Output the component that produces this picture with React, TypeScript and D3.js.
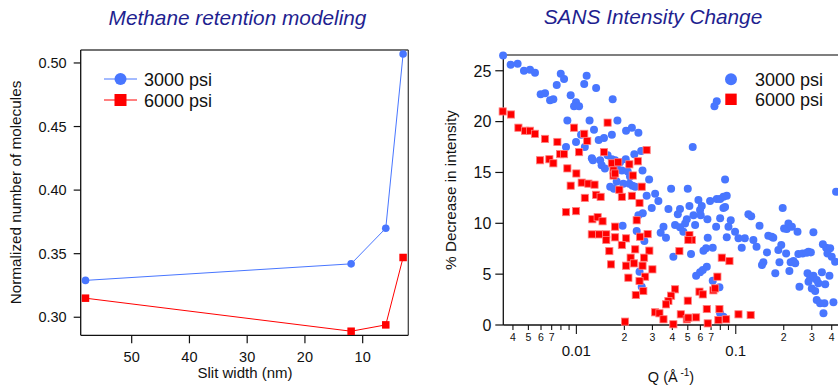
import React from 'react';
import * as d3 from 'd3';

const FONT = '"Liberation Sans", Arial, Helvetica, sans-serif';
const BLUE = '#4876ff';
const RED = '#ff0000';
const TITLE_COLOR = '#1f1f90';

// Methane retention vs slit width
const slitWidth = [58, 12, 6, 3];
const retention3000 = [0.329, 0.342, 0.37, 0.507];
const retention6000 = [0.315, 0.289, 0.294, 0.347];
const slitTicks = [10, 20, 30, 40, 50];
const retentionTicks = [0.3, 0.35, 0.4, 0.45, 0.5];

// SANS intensity change: [Q (1/Å), % decrease]
const pctTicks = [0, 5, 10, 15, 20, 25];
const seriesNames = ['3000 psi', '6000 psi'];

const sans3000: [number, number][] = [
  [0.00347, 26.5], [0.00387, 25.6], [0.00428, 25.7], [0.00469, 25.0], [0.00512, 25.1], [0.0055, 24.8],
  [0.00798, 24.7], [0.00837, 24.2], [0.00753, 23.6], [0.00597, 22.7], [0.00636, 22.8], [0.00684, 22.1],
  [0.00717, 22.2], [0.00921, 22.6], [0.00995, 21.9], [0.00967, 21.5], [0.0104, 21.5], [0.0112, 23.7],
  [0.0116, 24.5], [0.0133, 23.3], [0.0169, 22.2], [0.00878, 20.1], [0.0121, 20.1], [0.0181, 20.1],
  [0.0129, 19.2], [0.00995, 18.0], [0.0107, 18.7], [0.00861, 17.5], [0.0113, 17.5], [0.0138, 18.2],
  [0.0149, 18.4], [0.0167, 18.7], [0.0205, 19.1], [0.0223, 19.4], [0.0245, 18.9], [0.0125, 16.4],
  [0.0127, 16.2], [0.0141, 16.2], [0.0144, 15.7], [0.0151, 15.4], [0.0157, 16.7], [0.0167, 16.3],
  [0.0175, 16.2], [0.0179, 15.6], [0.0188, 16.0], [0.0193, 15.2], [0.0204, 16.3], [0.021, 15.1],
  [0.0217, 14.6], [0.0231, 16.8], [0.0255, 17.1], [0.026, 15.2], [0.0286, 14.3], [0.0179, 14.1],
  [0.0197, 13.9], [0.0215, 13.9], [0.0225, 13.7], [0.0234, 13.6], [0.0312, 12.9], [0.0327, 12.2],
  [0.0297, 11.5], [0.0276, 12.7], [0.0245, 10.8], [0.0261, 11.0], [0.0378, 11.4], [0.0393, 13.4],
  [0.05, 13.4], [0.0512, 11.7], [0.0447, 11.4], [0.0433, 10.9], [0.0352, 9.67], [0.0338, 9.08],
  [0.0365, 8.58], [0.0416, 9.83], [0.0447, 9.6], [0.0469, 9.17], [0.0481, 9.99], [0.0493, 10.4],
  [0.0543, 10.8], [0.0583, 12.3], [0.0612, 11.7], [0.0597, 11.3], [0.0603, 10.8], [0.0664, 10.4],
  [0.0556, 9.83], [0.069, 12.2], [0.076, 12.4], [0.0798, 12.4], [0.0837, 12.6], [0.0878, 12.7],
  [0.0857, 14.3], [0.0837, 11.5], [0.0857, 11.6], [0.093, 10.3], [0.09, 9.67], [0.099, 9.17],
  [0.0878, 8.62], [0.104, 8.52], [0.114, 8.52], [0.109, 7.6], [0.12, 10.9], [0.125, 10.7],
  [0.141, 9.76], [0.129, 8.36], [0.135, 7.7], [0.16, 8.78], [0.168, 8.68], [0.172, 8.58],
  [0.157, 7.14], [0.149, 6.16], [0.146, 5.9], [0.177, 5.08], [0.188, 6.16], [0.185, 7.37],
  [0.193, 7.86], [0.207, 7.04], [0.197, 11.5], [0.201, 9.5], [0.209, 9.44], [0.214, 9.99],
  [0.225, 9.67], [0.244, 9.17], [0.217, 5.31], [0.221, 6.16], [0.23, 6.29], [0.236, 6.06],
  [0.251, 3.77], [0.247, 6.98], [0.263, 7.04], [0.279, 7.11], [0.296, 7.14], [0.307, 9.11],
  [0.286, 7.21], [0.282, 5.08], [0.293, 4.59], [0.286, 4.26], [0.307, 4.85], [0.322, 4.42],
  [0.3, 3.6], [0.315, 3.34], [0.33, 4.1], [0.347, 5.18], [0.364, 4.0], [0.322, 2.46],
  [0.338, 2.13], [0.36, 2.13], [0.355, 1.15], [0.41, 2.23], [0.352, 7.93], [0.369, 7.6],
  [0.391, 7.54], [0.376, 7.04], [0.4, 6.72], [0.387, 4.85], [0.42, 6.23], [0.426, 13.1],
  [0.076, 22.0], [0.0735, 21.5], [0.0537, 17.5], [0.0406, 6.72], [0.0524, 6.98], [0.0627, 7.31],
  [0.0651, 7.54], [0.0717, 7.6], [0.0667, 8.58], [0.0753, 9.67], [0.0798, 10.5], [0.0195, 9.76],
  [0.0239, 9.24], [0.0267, 8.26], [0.0564, 4.85], [0.0597, 5.18], [0.0658, 5.73], [0.0621, 5.41],
  [0.0717, 4.36], [0.079, 3.7], [0.0257, 3.77], [0.0249, 5.24], [0.0837, 0.82], [0.0798, 1.15],
  [0.0163, 13.6], [0.0172, 13.4],
];

const sans6000: [number, number][] = [
  [0.00345, 21.0], [0.00389, 20.7], [0.00433, 19.4], [0.00476, 19.1], [0.00512, 19.1], [0.0055, 18.8],
  [0.00636, 18.3], [0.0076, 18.0], [0.00967, 19.4], [0.0112, 18.8], [0.0117, 18.1], [0.0104, 17.0],
  [0.0079, 16.8], [0.00837, 16.8], [0.00677, 16.3], [0.00592, 16.2], [0.00717, 15.9], [0.00878, 15.4],
  [0.01, 14.9], [0.00921, 13.7], [0.0108, 14.0], [0.0119, 13.9], [0.013, 13.8], [0.0157, 19.9],
  [0.0149, 17.0], [0.0167, 15.9], [0.0171, 15.2], [0.0171, 14.7], [0.0113, 12.5], [0.0133, 12.8],
  [0.0142, 12.6], [0.00861, 11.1], [0.00995, 11.2], [0.0126, 10.4], [0.0136, 10.6], [0.0146, 10.2],
  [0.0175, 9.67], [0.0125, 8.91], [0.0139, 8.91], [0.0154, 8.91], [0.0154, 8.36], [0.0175, 8.62],
  [0.0161, 7.27], [0.0165, 5.96], [0.0186, 13.3], [0.0193, 12.6], [0.0223, 12.7], [0.0257, 13.6],
  [0.0249, 12.0], [0.0239, 10.3], [0.0205, 8.52], [0.0193, 7.86], [0.0251, 8.68], [0.028, 8.94],
  [0.0234, 7.44], [0.0287, 7.31], [0.0219, 6.62], [0.0266, 6.62], [0.023, 6.06], [0.0205, 5.83],
  [0.026, 5.83], [0.03, 5.47], [0.027, 4.75], [0.0212, 4.65], [0.0249, 4.33], [0.0236, 2.95],
  [0.0263, 3.34], [0.0416, 3.51], [0.0393, 2.88], [0.0378, 2.36], [0.0365, 2.03], [0.05, 2.39],
  [0.0592, 3.28], [0.0621, 3.01], [0.0724, 3.41], [0.0742, 3.6], [0.0767, 4.75], [0.0817, 6.62],
  [0.0512, 8.85], [0.053, 8.36], [0.0504, 8.36], [0.0443, 7.27], [0.0658, 1.57], [0.079, 1.57],
  [0.0202, 0.33], [0.0312, 1.25], [0.0332, 1.15], [0.0352, 0.56], [0.0406, 0.07], [0.0452, 1.05],
  [0.0493, 0.56], [0.0564, 0.75], [0.0504, 0.72], [0.0667, 0.16], [0.0778, 0.49], [0.0276, 17.2],
  [0.0243, 16.1], [0.0215, 15.8], [0.0183, 16.0], [0.0175, 14.9], [0.0226, 14.7], [0.0913, 6.29],
  [0.104, 1.05], [0.124, 0.98], [0.087, 0.56],
];

function RetentionChart() {
  const left = 80.7, right = 408.3, top = 50, bottom = 335.3;
  const x = d3.scaleLinear().domain([58.83, 2.1]).range([left, right]);
  const y = d3.scaleLinear().domain([0.2858, 0.5102]).range([bottom, top]);
  const line = d3
    .line<number>()
    .x((_, i) => x(slitWidth[i]))
    .y((d) => y(d));
  const sq = 7.5;
  return (
    <g fontFamily={FONT}>
      <text x={237.5} y={25} textAnchor="middle" fontSize={20.8} fontStyle="italic" fill={TITLE_COLOR}>
        Methane retention modeling
      </text>
      {/* frame */}
      <line x1={left} x2={right} y1={top} y2={top} stroke="#444" strokeWidth={1.3} />
      <line x1={right} x2={right} y1={top} y2={bottom} stroke="#444" strokeWidth={1.3} />
      <line x1={left} x2={left} y1={top} y2={bottom} stroke="#111" strokeWidth={1.3} />
      <line x1={left} x2={right} y1={bottom} y2={bottom} stroke="#111" strokeWidth={1.3} />
      {retentionTicks.map((t) => (
        <g key={t}>
          <line x1={left - 7} x2={left} y1={y(t)} y2={y(t)} stroke="#111" strokeWidth={1.2} />
          <text x={left - 14} y={y(t)} dy="0.36em" textAnchor="end" fontSize={14.5} fill="#111">
            {t.toFixed(2)}
          </text>
        </g>
      ))}
      {slitTicks.map((t) => (
        <g key={t}>
          <line x1={x(t)} x2={x(t)} y1={bottom} y2={bottom + 8} stroke="#111" strokeWidth={1.2} />
          <text x={x(t)} y={361.5} textAnchor="middle" fontSize={14.5} fill="#111">
            {t}
          </text>
        </g>
      ))}
      <text x={245} y={378} textAnchor="middle" fontSize={15} fill="#111">
        Slit width (nm)
      </text>
      <text
        transform={`translate(21,${192.5}) rotate(-90)`}
        textAnchor="middle"
        fontSize={15.3}
        fill="#111"
      >
        Normalized number of molecules
      </text>
      <path d={line(retention3000) || ''} fill="none" stroke={BLUE} strokeWidth={1} />
      <path d={line(retention6000) || ''} fill="none" stroke={RED} strokeWidth={1} />
      {retention3000.map((v, i) => (
        <circle key={i} cx={x(slitWidth[i])} cy={y(v)} r={3.8} fill={BLUE} />
      ))}
      {retention6000.map((v, i) => (
        <rect key={i} x={x(slitWidth[i]) - sq / 2} y={y(v) - sq / 2} width={sq} height={sq} fill={RED} />
      ))}
      {/* legend */}
      <line x1={104} x2={137} y1={79} y2={79} stroke={BLUE} strokeWidth={1} />
      <circle cx={120.5} cy={79} r={6} fill={BLUE} />
      <text x={144} y={85.5} fontSize={18} fill="#111">{seriesNames[0]}</text>
      <line x1={104} x2={137} y1={100} y2={100} stroke={RED} strokeWidth={1} />
      <rect x={114.5} y={94} width={12} height={12} fill={RED} />
      <text x={144} y={106.5} fontSize={18} fill="#111">{seriesNames[1]}</text>
    </g>
  );
}

function SansChart() {
  const left = 503.3, right = 841.4, top = 55, bottom = 325;
  const x = d3.scaleLog().domain([0.00348, 0.46]).range([left, right]);
  const y = d3.scaleLinear().domain([0, 26.55]).range([bottom, top]);
  const [q0, q1] = x.domain();
  const logTicks: { v: number; k: number }[] = [];
  for (let e = -3; e <= -1; e++) {
    for (let k = 1; k <= 9; k++) {
      const v = k * Math.pow(10, e);
      if (v >= q0 && v <= q1) logTicks.push({ v, k });
    }
  }
  const sq = 7.2;
  return (
    <g fontFamily={FONT}>
      <text x={653} y={24} textAnchor="middle" fontSize={20.8} fontStyle="italic" fill={TITLE_COLOR}>
        SANS Intensity Change
      </text>
      <line x1={left} x2={right} y1={top} y2={top} stroke="#555" strokeWidth={1.5} />
      <line x1={right} x2={right} y1={top} y2={bottom} stroke="#555" strokeWidth={1.5} />
      <line x1={left} x2={left} y1={top} y2={bottom} stroke="#111" strokeWidth={1.3} />
      <line x1={left} x2={right} y1={bottom} y2={bottom} stroke="#111" strokeWidth={1.3} />
      {pctTicks.map((t) => (
        <g key={t}>
          <line x1={left - 8} x2={left} y1={y(t)} y2={y(t)} stroke="#111" strokeWidth={1.2} />
          <text x={left - 12} y={y(t)} dy="0.36em" textAnchor="end" fontSize={16} fill="#111">
            {t}
          </text>
        </g>
      ))}
      {logTicks.map(({ v, k }) => (
        <g key={v}>
          <line
            x1={x(v)}
            x2={x(v)}
            y1={bottom}
            y2={bottom + (k === 1 ? 9 : 5)}
            stroke="#111"
            strokeWidth={1.1}
          />
          {k === 1 ? (
            <text x={x(v)} y={355.5} textAnchor="middle" fontSize={15} fill="#111">
              {d3.format('')(v)}
            </text>
          ) : k <= 7 ? (
            <text x={x(v)} y={340.5} textAnchor="middle" fontSize={10.5} fill="#111">
              {k}
            </text>
          ) : null}
        </g>
      ))}
      <text x={671} y={382} textAnchor="middle" fontSize={14.5} fill="#111">
        Q (Å
        <tspan dy={-6} fontSize={10}>
          {' -1'}
        </tspan>
        <tspan dy={6}>)</tspan>
      </text>
      <text
        transform={`translate(456,${190}) rotate(-90)`}
        textAnchor="middle"
        fontSize={15.3}
        fill="#111"
      >
        % Decrease in intensity
      </text>
      {sans3000.map(([q, p], i) => (
        <circle key={i} cx={x(q)} cy={y(p)} r={4} fill={BLUE} />
      ))}
      {sans6000.map(([q, p], i) => (
        <rect
          key={i}
          x={x(q) - sq / 2}
          y={y(p) - sq / 2}
          width={sq}
          height={sq}
          fill={RED}
          stroke="#ff8080"
          strokeWidth={0.8}
        />
      ))}
      {/* legend */}
      <circle cx={731} cy={79.3} r={6} fill={BLUE} />
      <text x={755} y={85.5} fontSize={18} fill="#111">{seriesNames[0]}</text>
      <rect x={725.3} y={93.6} width={11.4} height={11.4} fill={RED} />
      <text x={755} y={105.5} fontSize={18} fill="#111">{seriesNames[1]}</text>
    </g>
  );
}

export default function App() {
  return (
    <svg
      width={838}
      height={387}
      style={{ position: 'absolute', left: 0, top: 0, background: '#fff' }}
    >
      <RetentionChart />
      <SansChart />
    </svg>
  );
}
